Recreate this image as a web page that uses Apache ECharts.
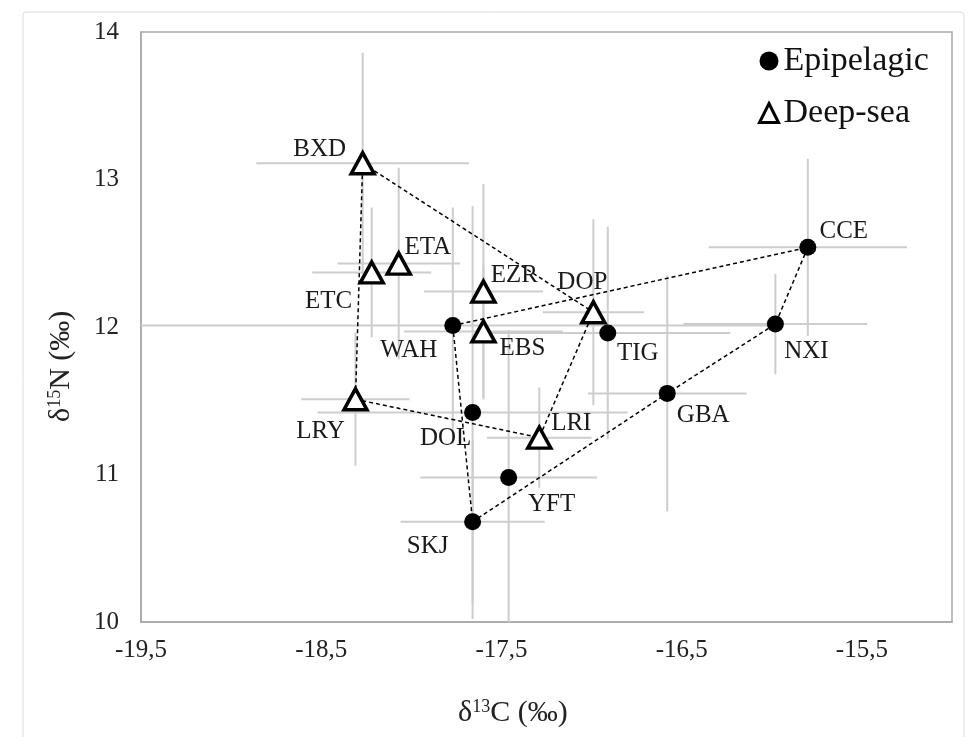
<!DOCTYPE html>
<html>
<head>
<meta charset="utf-8">
<script src="https://cdn.jsdelivr.net/npm/echarts@6/dist/echarts.min.js"></script>
<style>
  html, body { margin: 0; padding: 0; background: #fff; }
  #main { width: 977px; height: 737px; }
</style>
</head>
<body>
<div id="main"></div>
<script>
// Epipelagic species: d13C / d15N means and SD
const epiNames = ["WAH", "TIG", "CCE", "NXI", "GBA", "DOL", "YFT", "SKJ"];
const epiC13 = [-17.77, -16.91, -15.80, -15.98, -16.58, -17.66, -17.46, -17.66];
const epiN15 = [12.01, 11.96, 12.54, 12.02, 11.55, 11.42, 10.98, 10.68];
const epiC13sd = [1.75, 0.68, 0.55, 0.51, 0.44, 0.86, 0.49, 0.40];
const epiN15sd = [0.80, 0.72, 0.60, 0.34, 0.80, 1.40, 1.00, 0.55];
const epiHull = ["WAH", "CCE", "NXI", "GBA", "SKJ", "WAH"];

// Deep-sea species
const deepNames = ["BXD", "ETA", "ETC", "EZR", "EBS", "DOP", "LRI", "LRY"];
const deepC13 = [-18.27, -18.07, -18.22, -17.60, -17.60, -16.99, -17.29, -18.31];
const deepN15 = [13.11, 12.43, 12.37, 12.24, 11.97, 12.10, 11.25, 11.51];
const deepC13sd = [0.59, 0.34, 0.33, 0.33, 0.44, 0.28, 0.29, 0.30];
const deepN15sd = [0.75, 0.65, 0.44, 0.73, 0.45, 0.63, 0.34, 0.45];
const deepHull = ["BXD", "DOP", "LRI", "LRY", "BXD"];

const xTicks = [-19.5, -18.5, -17.5, -16.5, -15.5];
const yTicks = [10, 11, 12, 13, 14];

// label placement (pixels, relative to the marker)
const labelOffsets = {
    BXD: [-43, -14], ETA: [29, -16], ETC: [-43, 29], EZR: [31, -16],
    EBS: [39, 17], WAH: [-44, 25], DOP: [-11, -30], TIG: [30, 21],
    CCE: [36, -16], NXI: [31, 27], GBA: [36, 22], DOL: [-27, 26],
    LRI: [32, -14], LRY: [-35, 32], YFT: [43, 27], SKJ: [-45, 25],
};

const serif = "Liberation Serif";

function points(names, xs, ys) {
    return names.map((n, i) => ({
        name: n,
        value: [xs[i], ys[i]],
        label: { offset: labelOffsets[n] },
    }));
}

function hull(order, names, xs, ys) {
    return order.map((n) => {
        let i = names.indexOf(n);
        return [xs[i], ys[i]];
    });
}

function errorBars(xs, ys, xe, ye) {
    return {
        type: "custom",
        clip: true,
        silent: true,
        z: 1,
        encode: { x: 0, y: 1 },
        data: xs.map((x, i) => [x, ys[i], xe[i], ye[i]]),
        renderItem: function (params, api) {
            let x = api.value(0), y = api.value(1);
            let dx = api.value(2), dy = api.value(3);
            let a = api.coord([x - dx, y]), b = api.coord([x + dx, y]);
            let c = api.coord([x, y - dy]), d = api.coord([x, y + dy]);
            let style = { stroke: "#cdcdcd", lineWidth: 2 };
            return {
                type: "group",
                children: [
                    { type: "line", shape: { x1: a[0], y1: a[1], x2: b[0], y2: b[1] }, style: style },
                    { type: "line", shape: { x1: c[0], y1: c[1], x2: d[0], y2: d[1] }, style: style },
                ],
            };
        },
    };
}

const hullStyle = { type: [4, 3], color: "#000", width: 1.5 };
const labelStyle = {
    show: true,
    position: "inside",
    formatter: "{b}",
    color: "#1a1a1a",
    fontFamily: serif,
    fontSize: 25,
};

let dom = document.getElementById("main");
let myChart = echarts.init(dom, null, { renderer: "canvas" });
let option;

option = {
    backgroundColor: "#fff",
    animation: false,
    graphic: [
        {
            type: "rect",
            shape: { x: 23, y: 12, width: 941, height: 730, r: 3 },
            style: { fill: null, stroke: "#dcdcdc", lineWidth: 1 },
            silent: true,
        },
        {
            type: "text",
            left: 458,
            top: 698,
            style: {
                text: "δ{s|13}C (‰)",
                fontFamily: serif,
                fontSize: 30,
                fill: "#222",
                rich: { s: { fontSize: 18, verticalAlign: "top", padding: [0, 0, 12, 0], fontFamily: serif, fill: "#222" } },
            },
        },
        {
            type: "text",
            rotation: Math.PI / 2,
            x: 46,
            y: 422,
            style: {
                text: "δ{s|15}N (‰)",
                fontFamily: serif,
                fontSize: 30,
                fill: "#222",
                rich: { s: { fontSize: 18, verticalAlign: "top", padding: [0, 0, 12, 0], fontFamily: serif, fill: "#222" } },
            },
        },
    ],
    grid: {
        left: 141,
        right: 25,
        top: 32,
        bottom: 115,
        show: true,
        borderColor: "#a8a8a8",
        borderWidth: 1.5,
        backgroundColor: "#fff",
    },
    legend: {
        orient: "vertical",
        left: 753,
        top: 39,
        itemGap: 18,
        itemWidth: 19,
        itemHeight: 19,
        textStyle: { fontFamily: serif, fontSize: 34, color: "#111" },
        data: [
            { name: "Epipelagic", icon: "circle", itemStyle: { color: "#000" } },
            { name: "Deep-sea", icon: "triangle", itemStyle: { color: "#fff", borderColor: "#000", borderWidth: 3 } },
        ],
    },
    xAxis: {
        type: "value",
        min: -19.5,
        max: -15,
        interval: 1,
        splitLine: { show: false },
        axisTick: { show: false },
        axisLine: { onZero: false, lineStyle: { color: "#a8a8a8", width: 1.5 } },
        axisLabel: {
            margin: 16,
            showMaxLabel: false,
            fontFamily: serif,
            fontSize: 25,
            color: "#222",
            formatter: (v) => (xTicks.includes(v) ? v.toFixed(1).replace(".", ",") : ""),
        },
    },
    yAxis: {
        type: "value",
        min: 10,
        max: 14,
        interval: 1,
        splitLine: { show: false },
        axisTick: { show: false },
        axisLine: { show: true, onZero: false, lineStyle: { color: "#a8a8a8", width: 1.5 } },
        axisLabel: {
            margin: 22,
            fontFamily: serif,
            fontSize: 25,
            color: "#222",
            formatter: (v) => (yTicks.includes(v) ? String(v) : ""),
        },
    },
    series: [
        errorBars(epiC13, epiN15, epiC13sd, epiN15sd),
        errorBars(deepC13, deepN15, deepC13sd, deepN15sd),
        {
            type: "line",
            silent: true,
            z: 2,
            symbol: "none",
            lineStyle: hullStyle,
            data: hull(epiHull, epiNames, epiC13, epiN15),
        },
        {
            type: "line",
            silent: true,
            z: 2,
            symbol: "none",
            lineStyle: hullStyle,
            data: hull(deepHull, deepNames, deepC13, deepN15),
        },
        {
            name: "Epipelagic",
            type: "scatter",
            z: 3,
            symbol: "circle",
            symbolSize: 17,
            itemStyle: { color: "#000", opacity: 1 },
            label: labelStyle,
            data: points(epiNames, epiC13, epiN15),
        },
        {
            name: "Deep-sea",
            type: "scatter",
            z: 3,
            symbol: "triangle",
            symbolSize: [23, 21],
            itemStyle: { color: "#fff", borderColor: "#000", borderWidth: 3.5, opacity: 1 },
            label: labelStyle,
            data: points(deepNames, deepC13, deepN15),
        },
    ],
};

if (option && typeof option === "object") {
    myChart.setOption(option);
}

window.addEventListener("resize", myChart.resize);
</script>
</body>
</html>
